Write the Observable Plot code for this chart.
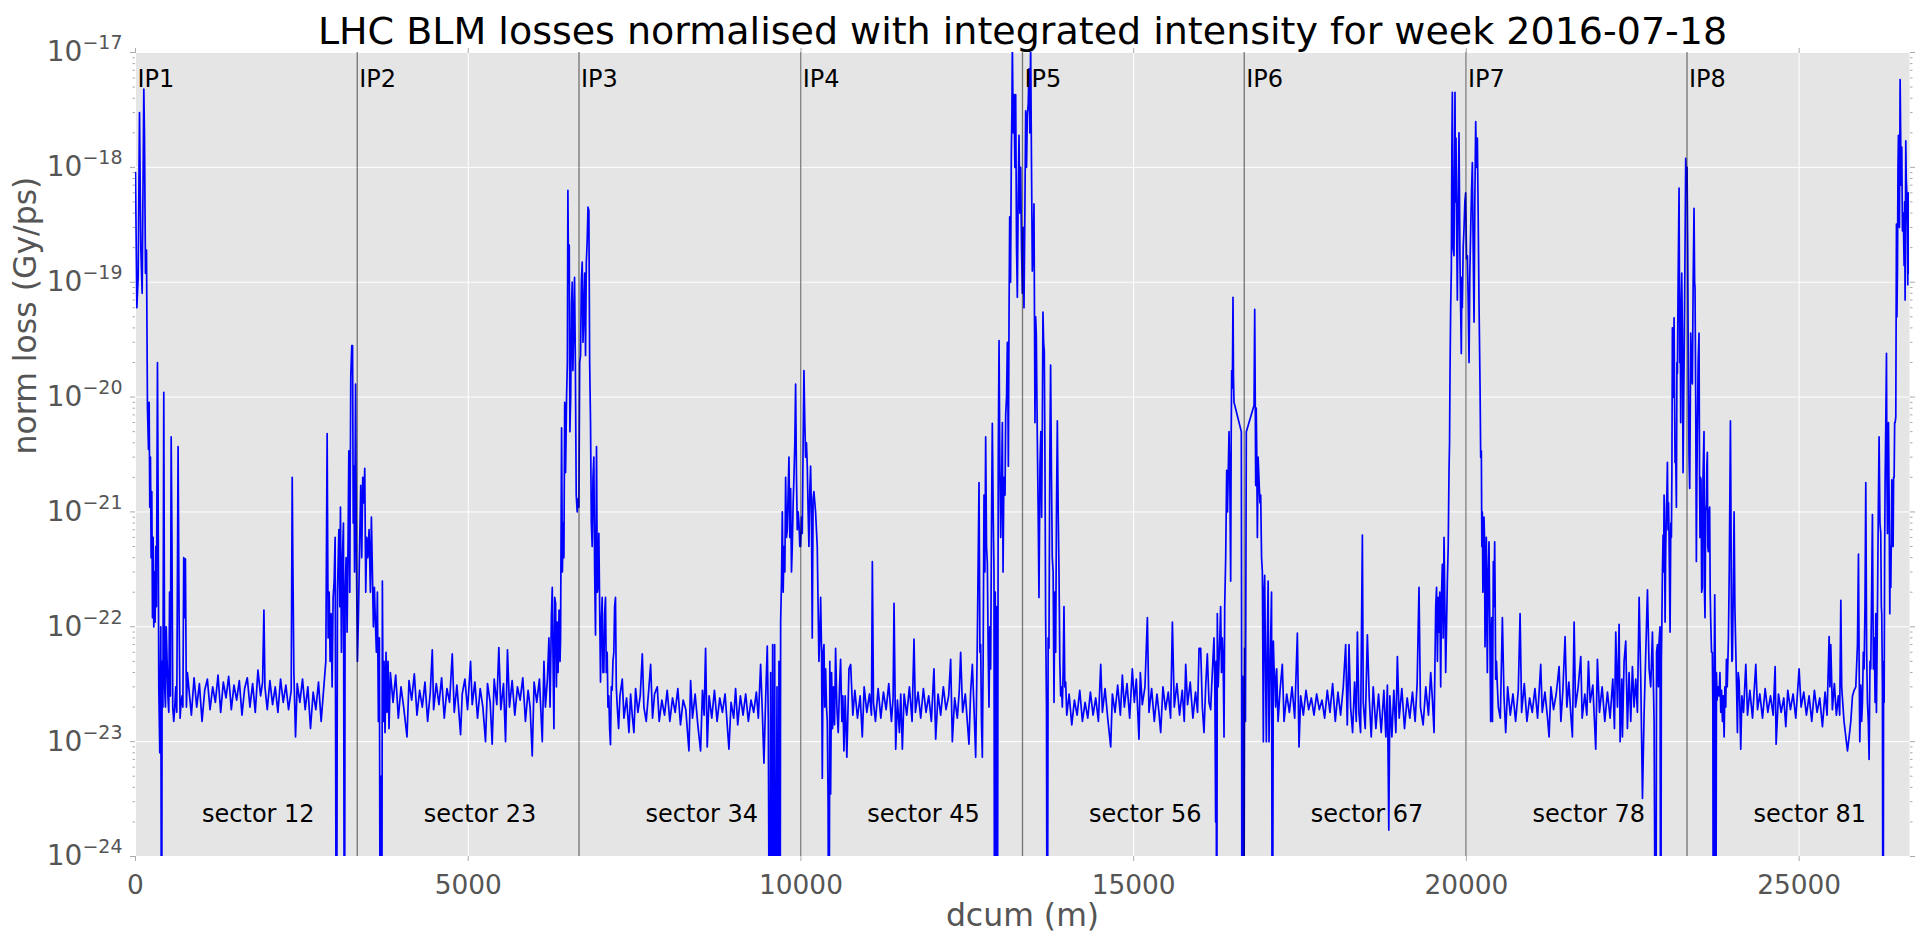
<!DOCTYPE html>
<html><head><meta charset="utf-8">
<script src="https://cdn.jsdelivr.net/npm/d3@7"></script>
<script src="https://cdn.jsdelivr.net/npm/@observablehq/plot@0.6"></script>
<style>body{margin:0;background:#fff;} #chart svg{display:block}</style>
</head><body><div id="chart"></div>
<script>
const title = "LHC BLM losses normalised with integrated intensity for week 2016-07-18";
const xLabel = "dcum (m)";
const yLabel = "norm loss (Gy/ps)";
const ipNames = ["IP1","IP2","IP3","IP4","IP5","IP6","IP7","IP8"];
const ipPos = [0, 3332.4, 6664.7, 9997.0, 13329.3, 16661.7, 19994.2, 23315.4];
const sectorNames = ["sector 12","sector 23","sector 34","sector 45","sector 56","sector 67","sector 78","sector 81"];
const ipLabelY = 5e-18;
const sectorLabelY = 2e-24;
const xTicks = [0, 5000, 10000, 15000, 20000, 25000];
const xTickLabels = ["0","5000","10000","15000","20000","25000"];
const yTicks = [1e-24, 1e-23, 1e-22, 1e-21, 1e-20, 1e-19, 1e-18, 1e-17];
const yTickExponents = ["\u221224","\u221223","\u221222","\u221221","\u221220","\u221219","\u221218","\u221217"];

const sector12 = [[0,9e-19],[20,6e-20],[40,1.1e-19],[60,3e-18],[80,2e-19],[100,8e-20],[125,4.8e-18],[135,1.9e-18],[150,1.2e-19],[165,1.9e-19],[180,8e-21],[195,3.5e-21],[205,9e-21],[215,1.1e-21],[225,3e-21],[235,4e-22],[245,1.5e-21],[255,1.2e-22],[265,6e-22],[275,1e-22],[285,3e-22],[295,1.1e-22],[305,5e-22],[315,1.5e-22],[330,2e-20],[340,1.4e-21],[350,3e-23],[365,8e-24],[380,1e-22],[392,1e-26],[400,5e-23],[412,2e-23],[425,1.1e-20],[438,3e-23],[450,2e-23],[462,1e-22],[475,5e-23],[488,2.4e-23],[500,1.8e-23],[512,2e-22],[524,2.5e-23],[536,4.5e-21],[548,5.6e-22],[560,2e-23],[575,1.5e-23],[590,2e-23],[605,3e-23],[620,1.8e-23],[640,3.7e-21],[655,1.25e-22],[670,1.6e-23],[685,2.2e-23],[700,2.5e-23],[712,2e-23],[725,4e-22],[738,1.2e-22],[750,3.9e-22],[765,2e-23],[780,4e-23],
[800,3e-23],[840,1.7e-23],[880,3.6e-23],[920,2e-23],[960,3.2e-23],[1000,1.5e-23],[1040,2.8e-23],[1080,3.5e-23],[1120,1.9e-23],[1160,3e-23],[1200,2.2e-23],[1240,3.8e-23],[1280,1.8e-23],[1320,3.3e-23],[1360,2.4e-23],[1400,3.7e-23],[1440,1.9e-23],[1480,3.1e-23],[1520,2.3e-23],[1560,3.4e-23],[1600,1.7e-23],[1640,2.9e-23],[1680,3.6e-23],[1720,2e-23],[1760,3.2e-23],[1800,1.8e-23],[1840,4.2e-23],[1880,2.5e-23],[1910,3.3e-23],[1930,1.4e-22],[1945,3e-23],[1980,1.9e-23],[2020,3.4e-23],[2060,2.1e-23],[2100,3e-23],[2140,1.8e-23],[2180,3.5e-23],[2220,2.2e-23],[2260,3.1e-23],[2300,1.9e-23],[2340,2.8e-23],[2355,2e-21],[2365,3.5e-22],[2380,4e-23],[2405,1.1e-23],[2430,3.2e-23],[2470,2.2e-23],[2510,3.5e-23],[2550,1.9e-23],[2590,3e-23],[2630,1.3e-23],[2670,2.7e-23],[2710,1.9e-23],[2750,3.3e-23],[2790,1.5e-23],[2830,3e-23],[2860,5e-23],[2880,4.8e-21],[2895,8e-23],[2910,2e-22],[2925,5e-23],[2940,1.3e-22],[2955,3e-23],[2970,1.8e-22],[2985,2.5e-22],[3000,6e-22],[3020,1e-26],[3035,2e-22],[3056,7e-22],[3070,1.5e-22],[3080,1.1e-21],[3095,6e-23],[3110,4e-22],[3125,8e-22],[3140,1e-26],[3150,2e-22],[3165,4e-22],[3180,9e-23],[3195,6e-22],[3206,3.4e-21],[3220,2e-22],[3235,1.5e-20],[3250,2.8e-20],[3262,2.8e-20],[3272,8e-22],[3282,2.5e-21],[3292,3e-22],[3307,1.3e-20],[3320,4e-22]];

const sector23 = [[3335,5e-23],[3350,1.2e-22],[3370,6e-22],[3385,1.7e-21],[3400,4e-22],[3415,2e-21],[3430,1.2e-21],[3445,2.4e-21],[3460,2e-22],[3475,6e-22],[3490,4e-22],[3510,7e-22],[3530,2e-22],[3545,9e-22],[3560,3e-22],[3575,1e-22],[3590,2.2e-22],[3605,1.1e-22],[3620,6e-23],[3635,2e-22],[3650,1.5e-23],[3665,8e-23],[3680,1e-26],[3690,5e-24],[3700,1e-26],[3710,2.5e-22],[3722,1.5e-23],[3735,5e-23],[3750,1.2e-23],[3765,6e-23],[3780,1.8e-23],[3795,5e-23],[3810,1.3e-23],[3830,4e-23],
[3870,2.2e-23],[3910,3.8e-23],[3950,1.6e-23],[3990,3e-23],[4030,2e-23],[4080,1.1e-23],[4110,3.4e-23],[4150,2.3e-23],[4190,3.9e-23],[4230,1.7e-23],[4270,2.8e-23],[4310,2e-23],[4350,3.3e-23],[4390,1.5e-23],[4430,2.7e-23],[4460,6.3e-23],[4480,1.9e-23],[4520,3.2e-23],[4560,2.1e-23],[4600,3.6e-23],[4640,1.6e-23],[4680,2.9e-23],[4720,2.2e-23],[4760,5.8e-23],[4790,1.8e-23],[4830,3.1e-23],[4885,1.15e-23],[4910,2.6e-23],[4950,3.5e-23],[4990,1.9e-23],[5035,5e-23],[5060,2.1e-23],[5100,3.3e-23],[5140,1.6e-23],[5180,2.9e-23],[5220,2e-23],[5260,1e-23],[5290,3.2e-23],[5330,2.2e-23],[5360,9.5e-24],[5390,3.5e-23],[5430,2.1e-23],[5460,6.6e-23],[5490,1.9e-23],[5530,3.2e-23],[5561,1e-23],[5590,6.3e-23],[5620,2e-23],[5660,3.4e-23],[5700,1.7e-23],[5740,3e-23],[5780,2.3e-23],[5820,3.6e-23],[5860,1.5e-23],[5900,2.8e-23],[5930,2e-23],[5962,7.5e-24],[5990,3.3e-23],[6030,2.2e-23],[6070,3.5e-23],[6113,1e-23],[6138,5e-23],[6160,2e-23],[6190,3.5e-23],
[6213,8e-23],[6230,2e-23],[6250,1.2e-22],[6263,2.2e-22],[6275,5e-23],[6288,1.3e-23],[6300,1.8e-22],[6313,1.6e-22],[6325,3e-23],[6338,1.1e-22],[6350,4e-23],[6365,1.4e-22],[6380,5e-23],[6388,8e-23],[6403,5.4e-21],[6415,3e-22],[6428,8e-22],[6438,4e-22],[6450,9e-21],[6463,2.2e-21],[6478,1e-20],[6490,2e-20],[6498,6.3e-19],[6508,1e-19],[6518,2.1e-19],[6528,5e-21],[6540,1e-20],[6553,6.5e-20],[6563,1e-19],[6573,1.7e-20],[6585,4e-20],[6598,1.1e-19],[6610,2e-20],[6623,1.4e-21],[6638,1e-21],[6650,1.3e-21],[6663,1.1e-21]];

const sector34 = [[6675,2e-20],[6688,2.3e-20],[6700,1e-19],[6713,1.5e-19],[6725,3e-20],[6738,5.5e-20],[6750,1.2e-19],[6763,2.3e-20],[6775,1.5e-19],[6788,2.3e-19],[6800,4.5e-19],[6813,4.2e-19],[6825,2e-20],[6838,6e-21],[6850,8e-22],[6863,5e-22],[6875,2e-21],[6888,3e-21],[6900,3e-22],[6913,8.5e-23],[6928,3.7e-21],[6940,2e-22],[6948,2.2e-22],[6963,6.5e-22],[6975,1.5e-22],[6988,3.3e-23],[7000,1.1e-22],[7013,1.8e-22],[7025,4e-23],[7038,4e-23],[7050,1.3e-22],[7063,1.8e-22],[7075,4e-23],[7088,6e-23],[7100,2e-23],[7113,2.5e-23],[7125,1.3e-23],[7138,9.4e-24],[7150,3e-23],[7163,2.8e-23],[7175,5e-23],[7188,6e-23],[7200,1.5e-22],[7213,1.8e-22],[7225,3e-23],[7238,2.1e-23],[7260,1.3e-23],
[7280,2.5e-23],[7315,3.5e-23],[7340,1.6e-23],[7380,2.4e-23],[7415,1.2e-23],[7440,2.6e-23],[7465,1.7e-23],[7490,1.2e-23],[7515,2.9e-23],[7550,1.8e-23],[7585,2.5e-23],[7616,5.8e-23],[7640,2e-23],[7675,1.5e-23],[7710,2.7e-23],[7741,4.7e-23],[7770,1.6e-23],[7800,2.6e-23],[7841,3e-23],[7870,1.5e-23],[7910,2.3e-23],[7950,1.7e-23],[7990,2.8e-23],[8030,1.5e-23],[8070,2.4e-23],[8110,1.8e-23],[8150,2.9e-23],[8190,1.4e-23],[8230,2.3e-23],[8270,1.9e-23],[8317,8.3e-24],[8342,3.4e-23],[8370,1.6e-23],[8410,2.6e-23],[8450,1.4e-23],[8492,8.3e-24],[8520,2.8e-23],[8545,1.7e-23],[8567,6.5e-23],[8592,9e-24],[8620,2.5e-23],[8660,1.6e-23],[8700,2.8e-23],[8740,1.5e-23],[8780,2.4e-23],[8820,1.8e-23],[8860,2.6e-23],[8918,8.6e-24],[8950,2.2e-23],[8990,1.6e-23],[9018,2.9e-23],[9050,1.4e-23],[9090,2.5e-23],[9130,1.7e-23],[9170,2.6e-23],[9210,1.5e-23],[9250,2.3e-23],[9290,1.8e-23],[9330,2.7e-23],[9360,1.6e-23],[9394,4.7e-23],[9420,1.8e-23],[9444,6.5e-24],[9470,2.4e-23],[9494,6.8e-23],[9510,1.5e-23],
[9530,1e-26],[9545,4e-23],[9560,1e-26],[9575,7e-23],[9590,1e-26],[9605,7e-23],[9620,1e-26],[9640,3e-23],[9655,1e-26],[9670,5e-23],[9685,1e-26],[9695,1.1e-22],[9708,2.5e-22],[9720,1e-21],[9733,2e-22],[9745,5e-22],[9758,3e-22],[9770,2e-21],[9783,6e-22],[9795,7e-22],[9808,1.5e-21],[9820,3e-21],[9833,6e-22],[9845,1.6e-21],[9858,3e-22],[9870,5e-22],[9883,1.2e-21],[9895,2e-21],[9908,4e-21],[9920,1.3e-20],[9933,2e-21],[9945,7e-22],[9958,1e-21],[9970,8e-22],[9983,5e-22],[9995,5e-22]];

const sector45 = [[10008,9e-22],[10020,6.5e-22],[10033,4e-21],[10045,1.7e-20],[10058,6e-21],[10070,3e-21],[10083,4e-21],[10095,2.5e-21],[10108,1e-21],[10120,5e-22],[10133,1.5e-21],[10145,2.5e-21],[10158,1e-21],[10170,8e-23],[10183,1.3e-21],[10195,1.5e-21],[10220,1e-21],[10245,5e-22],[10258,1.5e-22],[10270,5e-23],[10283,8e-23],[10296,1.8e-22],[10310,6e-23],[10321,4.8e-24],[10334,6e-23],[10346,7e-23],[10358,2e-23],[10371,4.3e-23],[10384,2e-23],[10396,1.5e-23],[10408,3e-24],[10421,1e-26],[10434,5e-23],[10446,3.5e-24],[10460,4e-23],[10475,1.3e-23],[10490,3e-23],[10505,1.4e-23],[10521,6.5e-23],[10540,2e-23],[10560,1.2e-23],[10580,3e-23],[10596,5.2e-23],[10615,1.5e-23],[10630,2.5e-23],[10646,8.3e-24],[10665,2.5e-23],[10690,7.3e-24],[10722,4.3e-23],[10747,4.7e-23],[10780,1.7e-23],
[10810,2.8e-23],[10850,1.6e-23],[10890,2.5e-23],[10922,1.1e-23],[10950,3e-23],[10990,1.8e-23],[11030,2.6e-23],[11060,1.7e-23],[11073,3.7e-22],[11090,2.2e-23],[11120,1.5e-23],[11160,2.9e-23],[11200,1.6e-23],[11240,2.7e-23],[11280,1.9e-23],[11320,3.2e-23],[11360,1.5e-23],[11385,2.4e-23],[11399,1.6e-22],[11424,8.6e-24],[11450,2.3e-23],[11480,1.2e-23],[11500,2.6e-23],[11524,8.6e-24],[11550,2.6e-23],[11590,1.7e-23],[11630,3e-23],[11670,1.5e-23],[11699,7.8e-23],[11720,1.8e-23],[11760,2.7e-23],[11800,1.6e-23],[11840,2.9e-23],[11880,1.8e-23],[11920,2.5e-23],[11960,1.5e-23],[11999,4.3e-23],[12025,1.05e-23],[12060,2.6e-23],[12100,1.7e-23],[12140,3e-23],[12180,1.9e-23],[12220,2.5e-23],[12250,5.2e-23],[12275,1e-23],[12310,2.4e-23],[12350,1.6e-23],[12380,2.8e-23],[12400,6e-23],[12430,1.8e-23],[12470,2.6e-23],[12500,1.5e-23],[12525,9.5e-24],[12550,2.7e-23],[12576,4.7e-23],[12600,2e-23],[12626,7.3e-24],[12650,7e-23],[12676,1.8e-21],[12690,6e-23],[12701,7e-23],[12713,1.5e-23],[12726,7.3e-24],[12738,5e-23],[12751,1.4e-21],[12764,3e-22],[12776,4.5e-21],[12789,5e-22],[12801,3.6e-22],[12814,6e-23],[12826,2e-23],[12838,1e-22],[12851,4.3e-23],[12864,8e-22],[12876,5.9e-21],[12889,1e-21],[12901,3e-22],[12910,1e-26],[12920,2e-22],[12930,1e-26],[12942,1.5e-22],[12951,1e-26],[12965,3e-21],[12977,3.1e-20],[12990,2e-21],[13002,6e-22],[13017,2.2e-21],[13027,6e-21],[13037,3e-22],[13050,2e-21],[13067,1.4e-21],[13077,7e-21],[13090,1e-20],[13102,3e-20],[13110,1e-20],[13117,2.5e-21],[13127,5e-20],[13137,3.7e-19],[13150,1e-19],[13162,1.4e-18],[13170,3e-18],[13177,1.2e-17],[13190,2e-18],[13202,4.3e-18],[13215,1e-18],[13227,4.3e-18],[13240,2e-19],[13252,7.4e-20],[13265,6e-19],[13277,1.9e-18],[13290,4e-19],[13302,1e-18],[13315,2e-19],[13327,8e-20]];

const sector56 = [[13340,3e-19],[13352,6e-20],[13365,4e-19],[13377,3.1e-18],[13390,1e-18],[13402,2.9e-18],[13415,3.5e-18],[13427,7.2e-18],[13440,2e-18],[13452,1.2e-17],[13465,1e-18],[13477,1.25e-19],[13490,2e-19],[13502,4.8e-19],[13517,6e-21],[13527,5e-20],[13537,3.5e-20],[13552,4.5e-21],[13565,1e-21],[13577,1.8e-22],[13592,2.5e-21],[13605,5e-21],[13617,9e-22],[13627,5e-21],[13637,5.5e-20],[13647,3e-20],[13657,2.5e-20],[13667,3e-21],[13677,1.2e-22],[13690,2e-23],[13702,1e-26],[13715,8e-23],[13727,6.5e-23],[13740,3e-21],[13752,1.9e-20],[13765,2e-21],[13777,4e-22],[13790,3e-22],[13803,2.2e-23],[13815,2e-22],[13828,6e-23],[13840,1e-21],[13853,6.2e-21],[13866,1e-21],[13878,3e-22],[13890,5e-23],[13903,2.5e-23],[13915,3e-23],[13928,2e-23],[13940,4e-23],[13953,1.5e-22],[13965,3e-23],[13978,3.3e-23],[13995,1.7e-23],
[14030,2.6e-23],[14070,1.4e-23],[14110,2.3e-23],[14150,1.7e-23],[14190,2.8e-23],[14230,1.5e-23],[14270,2.2e-23],[14310,1.6e-23],[14350,2.7e-23],[14390,1.7e-23],[14430,2.4e-23],[14470,1.5e-23],[14505,4.7e-23],[14530,1.8e-23],[14570,2.9e-23],[14610,1.6e-23],[14655,9e-24],[14680,2.6e-23],[14720,1.8e-23],[14760,3.1e-23],[14800,1.7e-23],[14830,3.8e-23],[14860,2e-23],[14900,3.2e-23],[14940,1.6e-23],[14980,4.3e-23],[15010,2.2e-23],[15040,3.5e-23],[15080,1.05e-23],[15100,4e-23],[15130,2.1e-23],[15170,3e-23],[15206,1.2e-22],[15230,1.8e-23],[15270,2.9e-23],[15310,1.5e-23],[15350,2.6e-23],[15380,1.8e-23],[15406,1.2e-23],[15440,3e-23],[15480,1.9e-23],[15520,2.7e-23],[15555,1.6e-23],[15582,1.1e-22],[15610,2e-23],[15650,3.2e-23],[15690,1.7e-23],[15730,2.8e-23],[15760,1.5e-23],[15782,4.7e-23],[15810,2.1e-23],[15850,3.3e-23],[15890,1.6e-23],[15930,2.7e-23],[15960,1.8e-23],[15983,6.5e-23],[16007,6.5e-23],[16032,2e-23],[16057,1.2e-23],[16082,3e-23],[16107,5.8e-23],[16132,2.2e-23],[16157,1.9e-23],[16182,4e-23],[16207,8e-23],[16220,3e-23],[16232,2e-24],[16240,5e-23],[16247,1e-26],[16257,1.3e-22],[16270,3e-23],[16282,5e-23],[16295,8e-23],[16307,1.5e-22],[16320,4e-23],[16332,8e-23],[16345,5e-23],[16358,1.1e-23],[16368,1.5e-22],[16383,4e-22],[16398,2.3e-21],[16410,1e-21],[16420,2e-21],[16433,5e-21],[16445,2e-21],[16458,2.5e-22],[16466,5e-21],[16473,1.7e-20],[16483,1.2e-20],[16493,7.4e-20],[16500,1.5e-20],[16508,9e-21],[16618,5e-21],[16622,6.5e-23],[16628,1e-26],[16640,3.7e-23],[16652,1e-26]];

const sector67 = [[16668,6.5e-23],[16680,1.5e-23],[16693,5e-21],[16809,8.5e-21],[16819,5.8e-20],[16827,1e-20],[16834,1.7e-21],[16842,8e-21],[16849,3.7e-21],[16859,6e-22],[16870,3e-21],[16884,1.9e-21],[16897,1.2e-21],[16909,1.4e-21],[16922,4e-22],[16934,3e-22],[16949,1e-23],[16959,2e-22],[16969,2.8e-22],[16982,4e-23],[16994,1e-23],[17009,8e-23],[17021,2.5e-22],[17034,1e-23],[17046,3e-23],[17059,8e-23],[17072,2e-22],[17084,1e-26],[17099,7.5e-23],[17109,4.5e-23],[17119,3.8e-23],[17134,2e-23],[17149,4.3e-23],[17170,1.5e-23],
[17200,2.8e-23],[17234,4.7e-23],[17260,1.5e-23],[17300,2.6e-23],[17340,1.8e-23],[17380,3e-23],[17420,1.6e-23],[17460,8.8e-23],[17485,9e-24],[17510,2.5e-23],[17550,1.7e-23],[17590,2.8e-23],[17630,1.9e-23],[17670,2.4e-23],[17710,1.7e-23],[17750,2.6e-23],[17790,1.9e-23],[17830,2.3e-23],[17870,1.6e-23],[17910,2.8e-23],[17950,1.8e-23],[17990,3.2e-23],[18030,1.5e-23],[18070,2.7e-23],[18110,1.7e-23],[18150,3e-23],[18186,7e-23],[18210,1.4e-23],[18236,7e-23],[18260,2e-23],[18290,1.2e-23],[18320,3.3e-23],[18345,1.5e-23],[18362,9e-23],[18385,1.8e-23],[18410,1.2e-23],[18437,6.3e-22],[18450,2.2e-23],[18480,1.3e-23],[18512,8.5e-23],[18540,2.4e-23],[18570,1.1e-23],[18600,3e-23],[18640,1.3e-23],[18680,2.6e-23],[18720,1.2e-23],[18760,2.8e-23],[18790,1.1e-23],[18813,3.1e-23],[18834,1.7e-24],[18850,2.5e-23],[18880,1.1e-23],[18910,2.8e-23],[18940,1.2e-23],[18963,5.5e-23],[18990,1.6e-23],[19030,2.9e-23],[19070,1.3e-23],[19110,2.4e-23],[19150,1.6e-23],[19190,2.7e-23],[19230,1.5e-23],[19260,3.2e-23],[19288,2.2e-22],[19310,2e-23],[19350,1.4e-23],[19390,3e-23],[19430,1.7e-23],[19464,4e-23],[19490,2.3e-23],[19514,1.2e-23],[19539,1.5e-22],[19552,2.2e-22],[19565,5e-23],[19578,1.8e-22],[19590,9e-23],[19600,2e-22],[19614,3e-23],[19627,2e-22],[19639,3.5e-22],[19652,8e-23],[19664,6e-22],[19677,1.5e-22],[19689,4e-23],[19702,1e-22],[19714,2.5e-22],[19727,5e-22],[19739,2.3e-21],[19747,4e-21],[19754,1.6e-20],[19764,6e-20],[19774,1.3e-19],[19782,1.5e-18],[19789,4.5e-18],[19800,2e-19],[19814,1.7e-19],[19822,1e-18],[19829,4.5e-18],[19836,5e-19],[19844,1.8e-18],[19854,3e-19],[19864,7e-20],[19875,4e-19],[19889,2e-18],[19897,5e-19],[19904,1.5e-19],[19914,6e-20],[19924,2.4e-20],[19932,1.1e-19],[19939,6e-20],[19952,2e-19],[19964,2.9e-19],[19977,5e-19],[19989,6e-19]];

const sector78 = [[20002,1.6e-19],[20015,1.7e-19],[20027,7e-20],[20040,2e-20],[20052,1.2e-19],[20065,2.9e-19],[20077,6e-19],[20090,1.1e-18],[20102,2e-19],[20115,4.5e-20],[20127,5e-19],[20140,2.5e-18],[20152,1e-18],[20165,1.8e-18],[20177,4e-19],[20190,6.5e-20],[20205,1.3e-20],[20215,3e-21],[20225,3.4e-21],[20232,5e-22],[20240,1e-21],[20248,2e-22],[20255,3.7e-22],[20265,9e-22],[20272,6e-22],[20280,6.7e-23],[20290,2e-22],[20300,6e-22],[20308,1e-22],[20315,4e-23],[20328,3e-22],[20340,5.5e-22],[20352,1e-22],[20365,1.5e-23],[20372,8e-23],[20380,1.2e-22],[20392,1.5e-23],[20405,3.7e-22],[20415,1.5e-22],[20425,5.5e-22],[20432,2e-22],[20440,3.5e-23],[20452,5e-23],[20465,3.1e-23],[20480,2e-23],
[20510,1.6e-23],[20541,1.2e-22],[20565,2.5e-23],[20591,1.2e-23],[20620,3e-23],[20660,1.7e-23],[20700,2.6e-23],[20740,1.5e-23],[20780,2.8e-23],[20807,1.3e-22],[20830,1.8e-23],[20870,3.2e-23],[20910,1.5e-23],[20950,2.4e-23],[20990,1.8e-23],[21030,2.9e-23],[21070,1.6e-23],[21117,4.7e-23],[21140,1.8e-23],[21180,2.7e-23],[21220,1.6e-23],[21243,1.1e-23],[21270,3e-23],[21310,1.9e-23],[21350,2.6e-23],[21393,4.5e-23],[21420,1.5e-23],[21450,2.8e-23],[21483,8.2e-23],[21510,2e-23],[21540,3.3e-23],[21570,1.7e-23],[21593,1.1e-23],[21619,1.1e-22],[21640,2e-23],[21680,3e-23],[21719,5.5e-23],[21740,1.6e-23],[21780,2.6e-23],[21810,1.7e-23],[21834,5e-23],[21860,2.2e-23],[21900,3.1e-23],[21944,8.6e-24],[21969,5.2e-23],[22000,1.8e-23],[22040,3e-23],[22080,1.5e-23],[22120,2.7e-23],[22160,1.6e-23],[22200,3.5e-23],[22225,1.3e-23],[22245,9e-23],[22270,2e-23],[22295,1.05e-22],[22310,1e-23],[22335,3.5e-23],[22345,1.1e-23],[22370,5e-23],[22395,7.5e-23],[22420,1.3e-23],[22445,4e-23],[22470,1.5e-23],[22495,4.5e-23],[22520,2e-23],[22545,3.5e-23],[22570,1.8e-23],
[22596,1.8e-22],[22621,3.4e-23],[22646,3.2e-24],[22671,1.8e-23],[22696,6e-23],[22721,2.1e-22],[22746,4.3e-23],[22770,3e-23],[22796,9e-23],[22821,1.5e-23],[22846,1e-26],[22858,6e-23],[22871,7e-23],[22885,3e-23],[22896,7.5e-23],[22910,1e-22],[22921,1e-26],[22930,5e-23],[22936,9e-23],[22946,3e-22],[22956,6.3e-22],[22964,3e-22],[22971,1.4e-21],[22980,4e-22],[22986,1.1e-22],[22996,5e-22],[23006,1.1e-21],[23014,1.5e-21],[23021,2.7e-21],[23030,7e-22],[23038,1.2e-21],[23046,6e-22],[23054,2e-22],[23061,9e-23],[23072,8e-22],[23081,6e-22],[23088,2e-21],[23096,4e-20],[23104,3e-20],[23112,1e-20],[23121,4.9e-20],[23128,1e-20],[23136,2.7e-21],[23146,3e-21],[23156,1.1e-21],[23164,2e-20],[23171,1.6e-20],[23182,1e-19],[23190,3e-19],[23196,6.6e-19],[23206,2e-20],[23214,5e-20],[23221,6e-21],[23228,7e-20],[23236,1.2e-19],[23246,4e-20],[23256,2.2e-21],[23266,1e-20],[23276,3.6e-20],[23286,2e-19],[23296,1.2e-18],[23306,8e-19]];

const sector81 = [[23316,1e-18],[23326,2e-19],[23336,1.4e-20],[23346,3e-21],[23356,1.6e-21],[23366,1e-20],[23371,3.6e-20],[23385,1.5e-20],[23396,1.3e-20],[23408,1e-19],[23421,4.4e-19],[23430,1e-19],[23436,9e-20],[23446,1e-20],[23456,3.7e-22],[23464,2e-21],[23471,5e-21],[23483,2e-20],[23496,3.6e-20],[23504,2e-21],[23511,6e-22],[23518,2e-21],[23526,1.9e-21],[23536,2e-22],[23546,2.2e-22],[23556,2e-21],[23571,5e-21],[23578,2e-22],[23586,1.2e-22],[23596,1e-21],[23606,1.2e-21],[23614,2.5e-21],[23621,3.3e-21],[23628,5e-22],[23636,4.5e-22],[23646,1e-21],[23656,1.1e-21],[23664,2e-22],[23671,1.2e-22],[23684,6e-23],[23696,6e-23],[23704,2e-23],[23712,1e-26],[23722,3e-23],[23732,1.9e-22],[23740,5e-23],[23747,1e-26],[23758,4e-23],[23768,2.3e-23],[23783,3e-23],[23798,2.5e-23],[23810,4e-23],[23823,1.8e-23],[23835,2.8e-23],[23848,1.5e-23],[23860,2.5e-23],[23873,1.1e-23],[23885,3e-23],[23898,2e-23],[23908,5.2e-23],[23920,3e-23],[23938,8e-23],[23950,3e-22],[23960,1.5e-21],[23968,6.2e-21],[23976,1e-21],[23983,1.2e-22],[23990,5e-23],[23998,5.2e-23],[24010,2e-22],[24023,1e-21],[24035,1.5e-22],[24048,6.5e-23],[24060,3e-23],[24073,1.2e-23],[24085,4e-23],[24098,3.4e-23],[24110,2e-23],[24123,8.6e-24],[24140,2.5e-23],[24165,1.8e-23],
[24199,4.7e-23],[24225,1.7e-23],[24260,2.8e-23],[24300,1.6e-23],[24349,4.7e-23],[24375,1.9e-23],[24410,2.6e-23],[24450,1.6e-23],[24490,2.9e-23],[24530,1.8e-23],[24570,2.5e-23],[24610,1.7e-23],[24640,4.5e-23],[24655,9.5e-24],[24690,2.6e-23],[24730,1.8e-23],[24770,2.4e-23],[24800,1.35e-23],[24830,2.8e-23],[24870,1.9e-23],[24910,2.6e-23],[24950,1.6e-23],[25000,4.3e-23],[25030,2e-23],[25070,2.7e-23],[25110,1.7e-23],[25150,2.5e-23],[25190,1.5e-23],[25230,2.8e-23],[25270,1.8e-23],[25310,2.4e-23],[25351,1.35e-23],[25390,2.7e-23],[25420,1.7e-23],[25451,8.2e-23],[25463,3e-23],[25476,7e-23],[25500,1.9e-23],[25530,3.2e-23],[25560,1.7e-23],[25590,2.5e-23],[25610,1.7e-23],
[25627,1.7e-22],[25640,3e-23],[25651,2.4e-23],[25675,1.5e-23],[25702,1.1e-23],[25727,8.3e-24],[25752,1.1e-23],[25777,1.5e-23],[25802,2.5e-23],[25827,2.8e-23],[25852,3e-23],[25877,7e-23],[25892,4.3e-22],[25902,5e-23],[25912,1e-23],[25927,3.1e-23],[25940,1.5e-23],[25952,2.2e-23],[25965,6e-23],[25977,4.3e-23],[25990,1.5e-22],[26002,1.8e-21],[26015,6e-23],[26027,2.2e-23],[26040,1.5e-23],[26052,7e-24],[26065,5e-23],[26077,4.3e-23],[26090,2e-22],[26102,9.5e-22],[26110,1.5e-22],[26117,4.3e-23],[26130,8e-23],[26142,2.2e-23],[26152,1.3e-22],[26162,1.8e-23],[26170,5e-23],[26177,1.3e-22],[26190,1e-21],[26202,4.5e-21],[26215,8e-22],[26227,6.5e-22],[26236,1.5e-22],[26242,1.3e-22],[26252,3e-23],[26262,1e-26],[26270,5e-23],[26278,2.2e-23],[26285,4e-22],[26293,2e-21],[26303,6e-21],[26313,2.4e-20],[26320,2e-21],[26328,6.5e-22],[26336,4e-21],[26343,6e-21],[26353,1.2e-21],[26363,1.3e-22],[26370,5e-22],[26378,2.2e-22],[26386,6e-22],[26393,1.9e-21],[26403,5e-22],[26413,5e-22],[26420,2e-21],[26428,2e-21],[26436,6e-21],[26443,6e-21],[26453,6.7e-21],[26463,3.2e-19],[26470,5e-20],[26478,1.3e-19],[26486,1e-18],[26493,1.9e-18],[26500,5e-19],[26508,3e-19],[26518,5.8e-18],[26526,2e-18],[26533,7e-19],[26543,1.5e-18],[26553,2.8e-19],[26565,4e-19],[26578,1.4e-19],[26586,5e-19],[26593,7e-20],[26603,1.7e-18],[26610,8e-19],[26618,6e-19],[26626,3e-19],[26633,9.5e-20],[26643,6e-19],[26655,1.2e-19]];

const points = [...sector12, ...sector23, ...sector34, ...sector45, ...sector56, ...sector67, ...sector78, ...sector81]
  .map(([dcum, loss]) => ({dcum, loss}));
const ips = ipNames.map((name, i) => ({name, pos: ipPos[i]}));
const sectors = sectorNames.map((name, i) => ({name, pos: ipPos[i]}));
const minorTicks = d3.range(-24, -17).flatMap(k => d3.range(2, 10).map(m => m * Math.pow(10, k)));

const tickColor = "#aaaaaa";
const labelColor = "#555555";

const chart = Plot.plot({
  width: 1915, height: 936,
  marginLeft: 135, marginRight: 6, marginTop: 52, marginBottom: 80,
  style: {fontFamily: "DejaVu Sans", background: "#ffffff", overflow: "visible"},
  x: {domain: [0, 26659], label: null},
  y: {type: "log", domain: [1e-24, 1e-17], label: null},
  marks: [
    Plot.frame({fill: "#E5E5E5", stroke: "none"}),
    Plot.gridX({ticks: xTicks, stroke: "#ffffff", strokeOpacity: 1, strokeWidth: 1}),
    Plot.gridY({ticks: yTicks, stroke: "#ffffff", strokeOpacity: 1, strokeWidth: 1}),
    Plot.line(points, {x: "dcum", y: "loss", stroke: "#0000ff", strokeWidth: 1.7, strokeLinejoin: "round", clip: true}),
    Plot.ruleX(ips.slice(1), {x: "pos", stroke: "#000000", strokeOpacity: 0.5, strokeWidth: 1.3}),
    Plot.text(ips, {x: "pos", y: () => ipLabelY, text: "name", textAnchor: "start", lineAnchor: "bottom", dx: 2, fontSize: 24, fill: "#000000"}),
    Plot.text(sectors, {x: d => d.pos + 1000, y: () => sectorLabelY, text: "name", textAnchor: "start", lineAnchor: "bottom", fontSize: 24, fill: "#000000"}),
    Plot.axisX({ticks: xTicks, anchor: "bottom", tickSize: 5, tickPadding: 14, tickFormat: d => xTickLabels[xTicks.indexOf(d)], fontSize: 26.4, fill: labelColor, stroke: tickColor, label: null}),
    Plot.axisX({ticks: xTicks, anchor: "top", tickSize: 5, fill: "none", stroke: tickColor, label: null}),
    Plot.axisY({ticks: yTicks, anchor: "left", tickSize: 5, tickPadding: 8, tickFormat: d => yTickExponents[yTicks.indexOf(d)], fontSize: 28, fill: labelColor, stroke: tickColor, label: null}),
    Plot.axisY({ticks: yTicks, anchor: "right", tickSize: 5, fill: "none", stroke: tickColor, label: null}),
    Plot.axisY({ticks: minorTicks, anchor: "left", tickSize: 2.5, fill: "none", stroke: tickColor, label: null}),
    Plot.axisY({ticks: minorTicks, anchor: "right", tickSize: 2.5, fill: "none", stroke: tickColor, label: null}),
    Plot.text([title], {text: d => d, frameAnchor: "top", dy: -9, lineAnchor: "bottom", fontSize: 38, fill: "#000000"}),
    Plot.text([xLabel], {text: d => d, frameAnchor: "bottom", dy: 69, lineAnchor: "bottom", fontSize: 31.5, fill: labelColor}),
    Plot.text([yLabel], {text: d => d, frameAnchor: "left", dx: -100, rotate: -90, lineAnchor: "bottom", fontSize: 31.5, fill: labelColor})
  ]
});

// Render y tick labels as 10 with a superscript exponent
const SVGNS = "http://www.w3.org/2000/svg";
chart.querySelectorAll('g[aria-label="y-axis tick label"] text').forEach(t => {
  const e = t.textContent;
  while (t.firstChild) t.removeChild(t.firstChild);
  t.appendChild(document.createTextNode("10"));
  const s = document.createElementNS(SVGNS, "tspan");
  s.setAttribute("dy", "-12");
  s.setAttribute("font-size", "19");
  s.textContent = e;
  t.appendChild(s);
});

document.getElementById("chart").appendChild(chart);
</script>
</body></html>
